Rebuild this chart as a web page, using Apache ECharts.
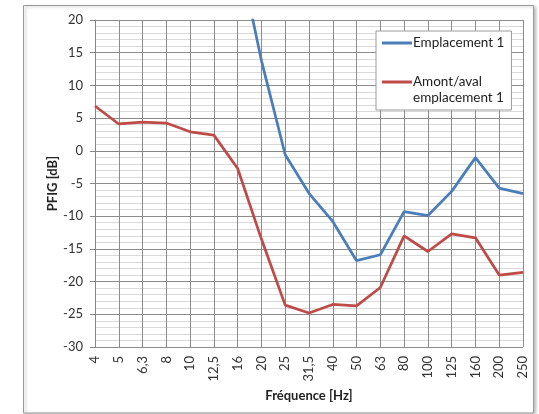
<!DOCTYPE html>
<html><head><meta charset="utf-8">
<script src="https://cdn.jsdelivr.net/npm/echarts@6/dist/echarts.min.js"></script>
<style>html,body{margin:0;padding:0;background:#fff}#c{width:539px;height:414px}</style>
</head><body><div id="c"></div>
<script>
var categories = ['4','5','6,3','8','10','12,5','16','20','25','31,5','40','50','63','80','100','125','160','200','250'];
var emplacement1 = [null,null,null,null,null,null,31,13.8,-0.6,-6.5,-10.8,-16.8,-15.9,-9.3,-9.9,-6.2,-1.05,-5.7,-6.55];
var amontAval = [6.85,4.1,4.4,4.25,2.9,2.4,-2.7,-13.5,-23.6,-24.8,-23.5,-23.7,-20.9,-13.0,-15.4,-12.7,-13.3,-19.0,-18.6];
var seriesNames = ['Emplacement 1','Amont/aval emplacement 1'];
var yMin = -30, yMax = 20, yStep = 5;

var font = 'Lato';
var chart = echarts.init(document.getElementById('c'), null, {renderer:'canvas'});
chart.setOption({
  backgroundColor:'#fff',
  animation:false,
  graphic:[{
    type:'rect', silent:true, z:-10,
    shape:{x:23.5,y:5.5,width:510,height:407.5},
    style:{fill:'#fff',stroke:'#9a9a9a',lineWidth:1,shadowBlur:3,shadowOffsetX:2,shadowOffsetY:1,shadowColor:'rgba(0,0,0,0.25)'}
  }],
  grid:{left:95,right:16,top:20,bottom:67,containLabel:false},
  legend:{
    orient:'vertical', left:376, top:31,
    backgroundColor:'#fff', borderColor:'#9a9a9a', borderWidth:1,
    padding:[4,7,4,6], itemGap:7, icon:'rect', itemWidth:30, itemHeight:3,
    textStyle:{fontFamily:font,fontSize:13.5,color:'#222',lineHeight:16,padding:[0,0,0,-4]},
    data:seriesNames,
    formatter:function(n){ return n===seriesNames[1] ? ' \nAmont/aval\nemplacement 1' : n; }
  },
  xAxis:{
    type:'category', data:categories, boundaryGap:false,
    name:'Fréquence [Hz]', nameLocation:'middle', nameGap:37,
    nameTextStyle:{fontFamily:font,fontSize:13,fontWeight:'bold',color:'#222'},
    axisLine:{lineStyle:{color:'#868686',width:1}},
    axisTick:{show:true,length:5,interval:0,alignWithLabel:true,lineStyle:{color:'#868686'}},
    axisLabel:{rotate:90,interval:0,margin:9,fontFamily:font,fontSize:13,color:'#333'},
    splitLine:{show:true,interval:0,lineStyle:{color:'#8c8c8c',width:1}}
  },
  yAxis:{
    type:'value', min:yMin, max:yMax, interval:yStep,
    name:'PFIG [dB]', nameLocation:'middle', nameGap:36, nameMoveOverlap:false,
    nameTextStyle:{fontFamily:font,fontSize:13,fontWeight:'bold',color:'#222'},
    axisLine:{show:true,lineStyle:{color:'#868686',width:1}},
    axisTick:{show:true,length:5,lineStyle:{color:'#868686'}},
    axisLabel:{margin:12,fontFamily:font,fontSize:13,color:'#333'},
    splitLine:{show:true,lineStyle:{color:'#8c8c8c',width:1}},
    minorTick:{show:false,splitNumber:5},
    minorSplitLine:{show:true,lineStyle:{color:'#d9d9d9',width:1}}
  },
  series:[
    {name:seriesNames[0],type:'line',data:emplacement1,symbol:'none',clip:true,
     lineStyle:{color:'#4a7ebb',width:2.75},itemStyle:{color:'#4a7ebb'}},
    {name:seriesNames[1],type:'line',data:amontAval,symbol:'none',clip:true,
     lineStyle:{color:'#be4b48',width:2.75},itemStyle:{color:'#be4b48'}}
  ]
});
</script></body></html>
